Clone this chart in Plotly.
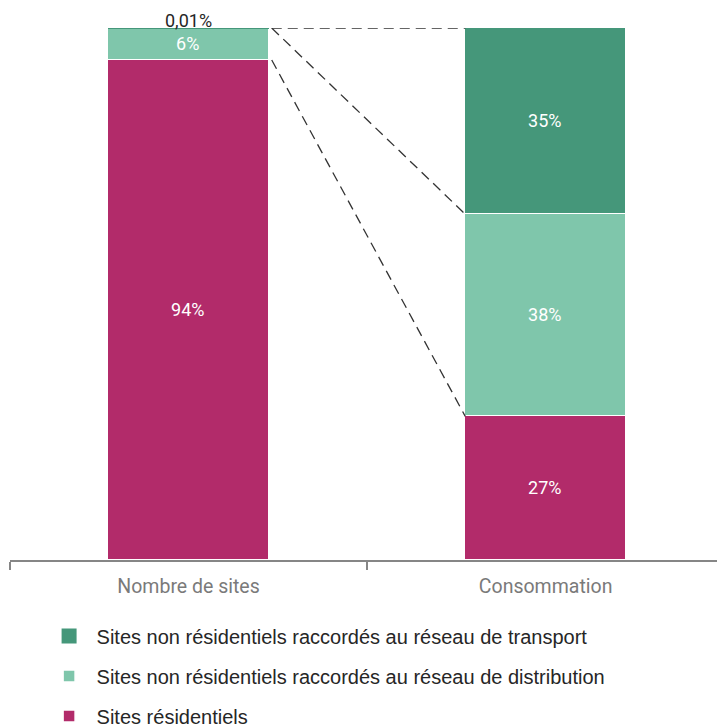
import plotly.graph_objects as go

# Categories and shares (%)
categories = ["Nombre de sites", "Consommation"]
series_names = [
    "Sites résidentiels",
    "Sites non résidentiels raccordés au réseau de distribution",
    "Sites non résidentiels raccordés au réseau de transport",
]
residentiel = [94, 27]
distribution = [6, 38]
transport = [0.01, 35]

colors = ["#b22b6a", "#7fc6ab", "#45977a"]


def fmt_pct(v):
    s = f"{v:g}".replace(".", ",")
    return s + "%"


BAR_W = 0.45
LABEL_FONT = "Roboto"
THIN = 1  # segments below this share get their label above the bar

fig = go.Figure()

series = [residentiel, distribution, transport]
for i, (name, vals, col) in enumerate(zip(series_names, series, colors)):
    labels = [fmt_pct(v) if v >= THIN else "" for v in vals]
    # very thin segments get an outline in their own colour so they stay visible
    line_col = [col if v < THIN else "white" for v in vals]
    line_w = [3 if v < THIN else 1.5 for v in vals]
    fig.add_trace(go.Bar(
        x=categories,
        y=vals,
        name=name,
        legendgroup=name,
        legendrank=len(series) - i,
        width=BAR_W,
        marker=dict(color=col, line=dict(color=line_col, width=line_w)),
        text=labels,
        texttemplate="%{text}",
        textposition="inside",
        insidetextanchor="middle",
        textangle=0,
        textfont=dict(family=LABEL_FONT, size=18, color="white"),
        hoverinfo="skip",
    ))

# labels of thin segments, placed just above the stack
totals = [r + d + t for r, d, t in zip(residentiel, distribution, transport)]
for cat, vals, tot in zip(categories, zip(*series), totals):
    for v in vals:
        if v < THIN:
            fig.add_annotation(
                x=cat, y=tot, xref="x", yref="y",
                text=fmt_pct(v), showarrow=False,
                yanchor="bottom", yshift=-5,
                font=dict(family=LABEL_FONT, size=18, color="#262626"),
            )

# dashed connectors between matching segment tops of the two bars
x0 = 0 + BAR_W / 2
x1 = 1 - BAR_W / 2
left_tops = [residentiel[0], residentiel[0] + distribution[0], totals[0]]
right_tops = [residentiel[1], residentiel[1] + distribution[1], totals[1]]
for yl, yr in zip(left_tops, right_tops):
    fig.add_shape(type="line", xref="x", yref="y",
                  x0=x0 + 0.008, y0=yl, x1=x1, y1=yr,
                  line=dict(color="#333333", width=1.3, dash="10px,6px"))

fig.update_layout(
    barmode="stack",
    width=717, height=727,
    margin=dict(l=10, r=0, t=28, b=167, autoexpand=False),
    plot_bgcolor="white",
    paper_bgcolor="white",
    bargap=0,
    showlegend=True,
    legend=dict(
        orientation="v",
        traceorder="grouped",
        tracegroupgap=11,
        x=0.058, xanchor="left", xref="container",
        y=0.152, yanchor="top", yref="container",
        font=dict(family="Liberation Sans", size=20, color="#262626"),
        itemwidth=45,
    ),
)

fig.update_xaxes(
    type="category",
    showline=True, linecolor="#868686", linewidth=2,
    ticks="outside", tickson="boundaries", ticklen=8, tickwidth=1.5,
    tickcolor="#868686",
    tickfont=dict(family=LABEL_FONT, size=19.5, color="#7a7a7a"),
    ticklabelstandoff=8,
    showgrid=False,
    range=[-0.5, 1.48],
)
fig.update_yaxes(
    visible=False,
    range=[0, 100.01],
    showgrid=False,
)

fig.write_html("out.html")
